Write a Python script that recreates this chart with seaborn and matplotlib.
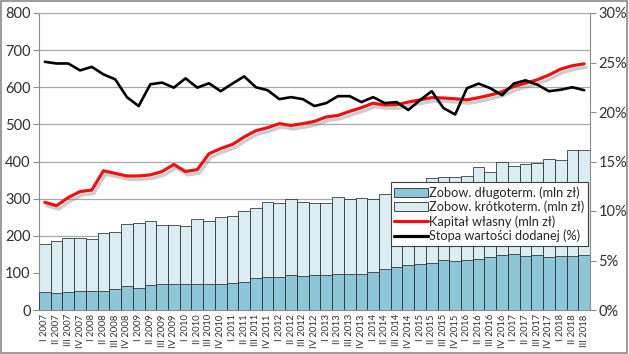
import numpy as np
import pandas as pd
import matplotlib
matplotlib.use('Agg')
import matplotlib.pyplot as plt
import matplotlib.patheffects as pe
from matplotlib.patches import Patch, Rectangle
from matplotlib.lines import Line2D
from matplotlib.ticker import FuncFormatter, FixedLocator
import seaborn as sns

# Data

quarters = [f"{q} {y}" for y in range(2007, 2019) for q in ["I", "II", "III", "IV"]][:47]

long_term = [48, 47, 48, 50, 50, 50, 56, 64, 60, 67, 70, 70, 70, 71, 71, 70,
             73, 76, 86, 89, 89, 94, 92, 93, 93, 97, 96, 97, 102, 110, 115, 122,
             123, 126, 136, 132, 135, 137, 144, 149, 150, 145, 147, 144, 145, 145, 147]

total_liab = [178, 186, 194, 194, 192, 207, 210, 232, 235, 239, 229, 229, 225, 246, 241, 250,
              252, 268, 274, 290, 288, 298, 290, 288, 287, 304, 298, 303, 298, 313, 318, 328,
              336, 355, 358, 358, 361, 384, 373, 398, 388, 393, 395, 406, 404, 430, 431]

equity = [290, 281, 303, 319, 323, 375, 368, 361, 361, 364, 373, 392, 373, 378, 421, 435,
          446, 466, 483, 491, 502, 497, 502, 508, 520, 524, 535, 545, 557, 552, 553, 560,
          566, 572, 571, 569, 566, 572, 579, 588, 602, 611, 620, 633, 649, 658, 663]

value_added_rate = [25.07, 24.9, 24.9, 24.2, 24.56, 23.8, 23.3, 21.5, 20.6, 22.8, 22.97, 22.46,
                    23.4, 22.46, 22.9, 22.1, 22.87, 23.6, 22.5, 22.2, 21.3, 21.5, 21.3, 20.6,
                    20.9, 21.6, 21.6, 21.0, 21.5, 20.9, 21.0, 20.2, 21.2, 22.1, 20.4, 19.75,
                    22.4, 22.87, 22.4, 21.7, 22.87, 23.2, 22.76, 22.1, 22.25, 22.5, 22.2]

df = pd.DataFrame({
    'Kwartal': quarters,
    'Dlugo': long_term,
    'Razem': total_liab,
    'Kapital': equity,
    'Stopa': value_added_rate,
})
df['pos'] = np.arange(len(df))

# Styling

sns.set_style('white')
plt.rcParams['font.family'] = ['Lato', 'DejaVu Sans']

dark_blue = '#8CC6D8'
light_blue = '#DAEDF3'
edge = '#2a2a2a'
axis_grey = '#8c8c8c'
text_col = '#303030'

fig = plt.figure(figsize=(6.29, 3.54), dpi=100)
ax = fig.add_axes([39 / 629, 1 - 310 / 354, 551 / 629, 297 / 354])

# Stacked bars: total (short + long) first, long-term on top of it
sns.barplot(data=df, x='Kwartal', y='Razem', color=light_blue, saturation=1,
            width=1.0, edgecolor=edge, linewidth=0.55, ax=ax, zorder=2)
sns.barplot(data=df, x='Kwartal', y='Dlugo', color=dark_blue, saturation=1,
            width=1.0, edgecolor=edge, linewidth=0.55, ax=ax, zorder=3)

# Equity line with a soft shadow
sns.lineplot(data=df, x='pos', y='Kapital', color='#EE1111', linewidth=2.3, ax=ax, zorder=4,
             path_effects=[pe.SimpleLineShadow(offset=(1.5, -2.5), shadow_color='#909090', alpha=0.45),
                           pe.Normal()])

ax.set_ylim(0, 800)
ax.set_xlim(-0.5, len(df) - 0.5)
ax.set_yticks(range(0, 801, 100))
ax.yaxis.grid(True, color='#a8a8a8', linewidth=0.9)
ax.set_axisbelow(True)
ax.set_xlabel('')
ax.set_ylabel('')
ax.tick_params(axis='y', labelsize=10.5, length=4, color=axis_grey, pad=2, labelcolor=text_col)
ax.tick_params(axis='x', which='major', labelsize=6.8, rotation=90, length=0, pad=3,
               labelcolor=text_col)
ax.xaxis.set_minor_locator(FixedLocator(np.arange(-0.5, len(df), 1)))
ax.tick_params(axis='x', which='minor', length=4, color=axis_grey)

for side in ['left', 'bottom']:
    ax.spines[side].set_color(axis_grey)
ax.spines['top'].set_visible(False)
ax.spines['right'].set_visible(False)

# Right axis: value added rate
ax2 = ax.twinx()
sns.lineplot(data=df, x='pos', y='Stopa', color='black', linewidth=1.9, ax=ax2, zorder=5)
ax2.set_ylim(0, 30)
ax2.set_yticks(range(0, 31, 5))
ax2.yaxis.set_major_formatter(FuncFormatter(lambda v, _: f"{v:.0f}%"))
ax2.set_ylabel('')
ax2.tick_params(axis='y', labelsize=10.5, length=4, color=axis_grey, pad=2, labelcolor=text_col)
ax2.spines['top'].set_visible(False)
ax2.spines['left'].set_visible(False)
ax2.spines['bottom'].set_visible(False)
ax2.spines['right'].set_color(axis_grey)

handles = [
    Patch(facecolor=dark_blue, edgecolor=edge, linewidth=0.6),
    Patch(facecolor=light_blue, edgecolor=edge, linewidth=0.6),
    Line2D([], [], color='#EE1111', linewidth=2.3),
    Line2D([], [], color='black', linewidth=2.3),
]
labels = ['Zobow. długoterm. (mln zł)', 'Zobow. krótkoterm. (mln zł)',
          'Kapitał własny (mln zł)', 'Stopa wartości dodanej (%)']
leg = ax2.legend(handles, labels, loc='upper left', bbox_to_anchor=(0.638, 0.43),
                 fontsize=9.2, frameon=True, fancybox=False, framealpha=1,
                 edgecolor='#404040', borderpad=0.3, labelspacing=0.15,
                 handlelength=2.6, handletextpad=0.1, borderaxespad=0)
leg.get_frame().set_linewidth(0.8)
leg.set_zorder(10)

# Outer chart border
fig.patches.append(Rectangle((0.002, 0.003), 0.995, 0.993, transform=fig.transFigure,
                             fill=False, edgecolor='#8a8a8a', linewidth=1.2))

plt.savefig('out.png', dpi=100)
